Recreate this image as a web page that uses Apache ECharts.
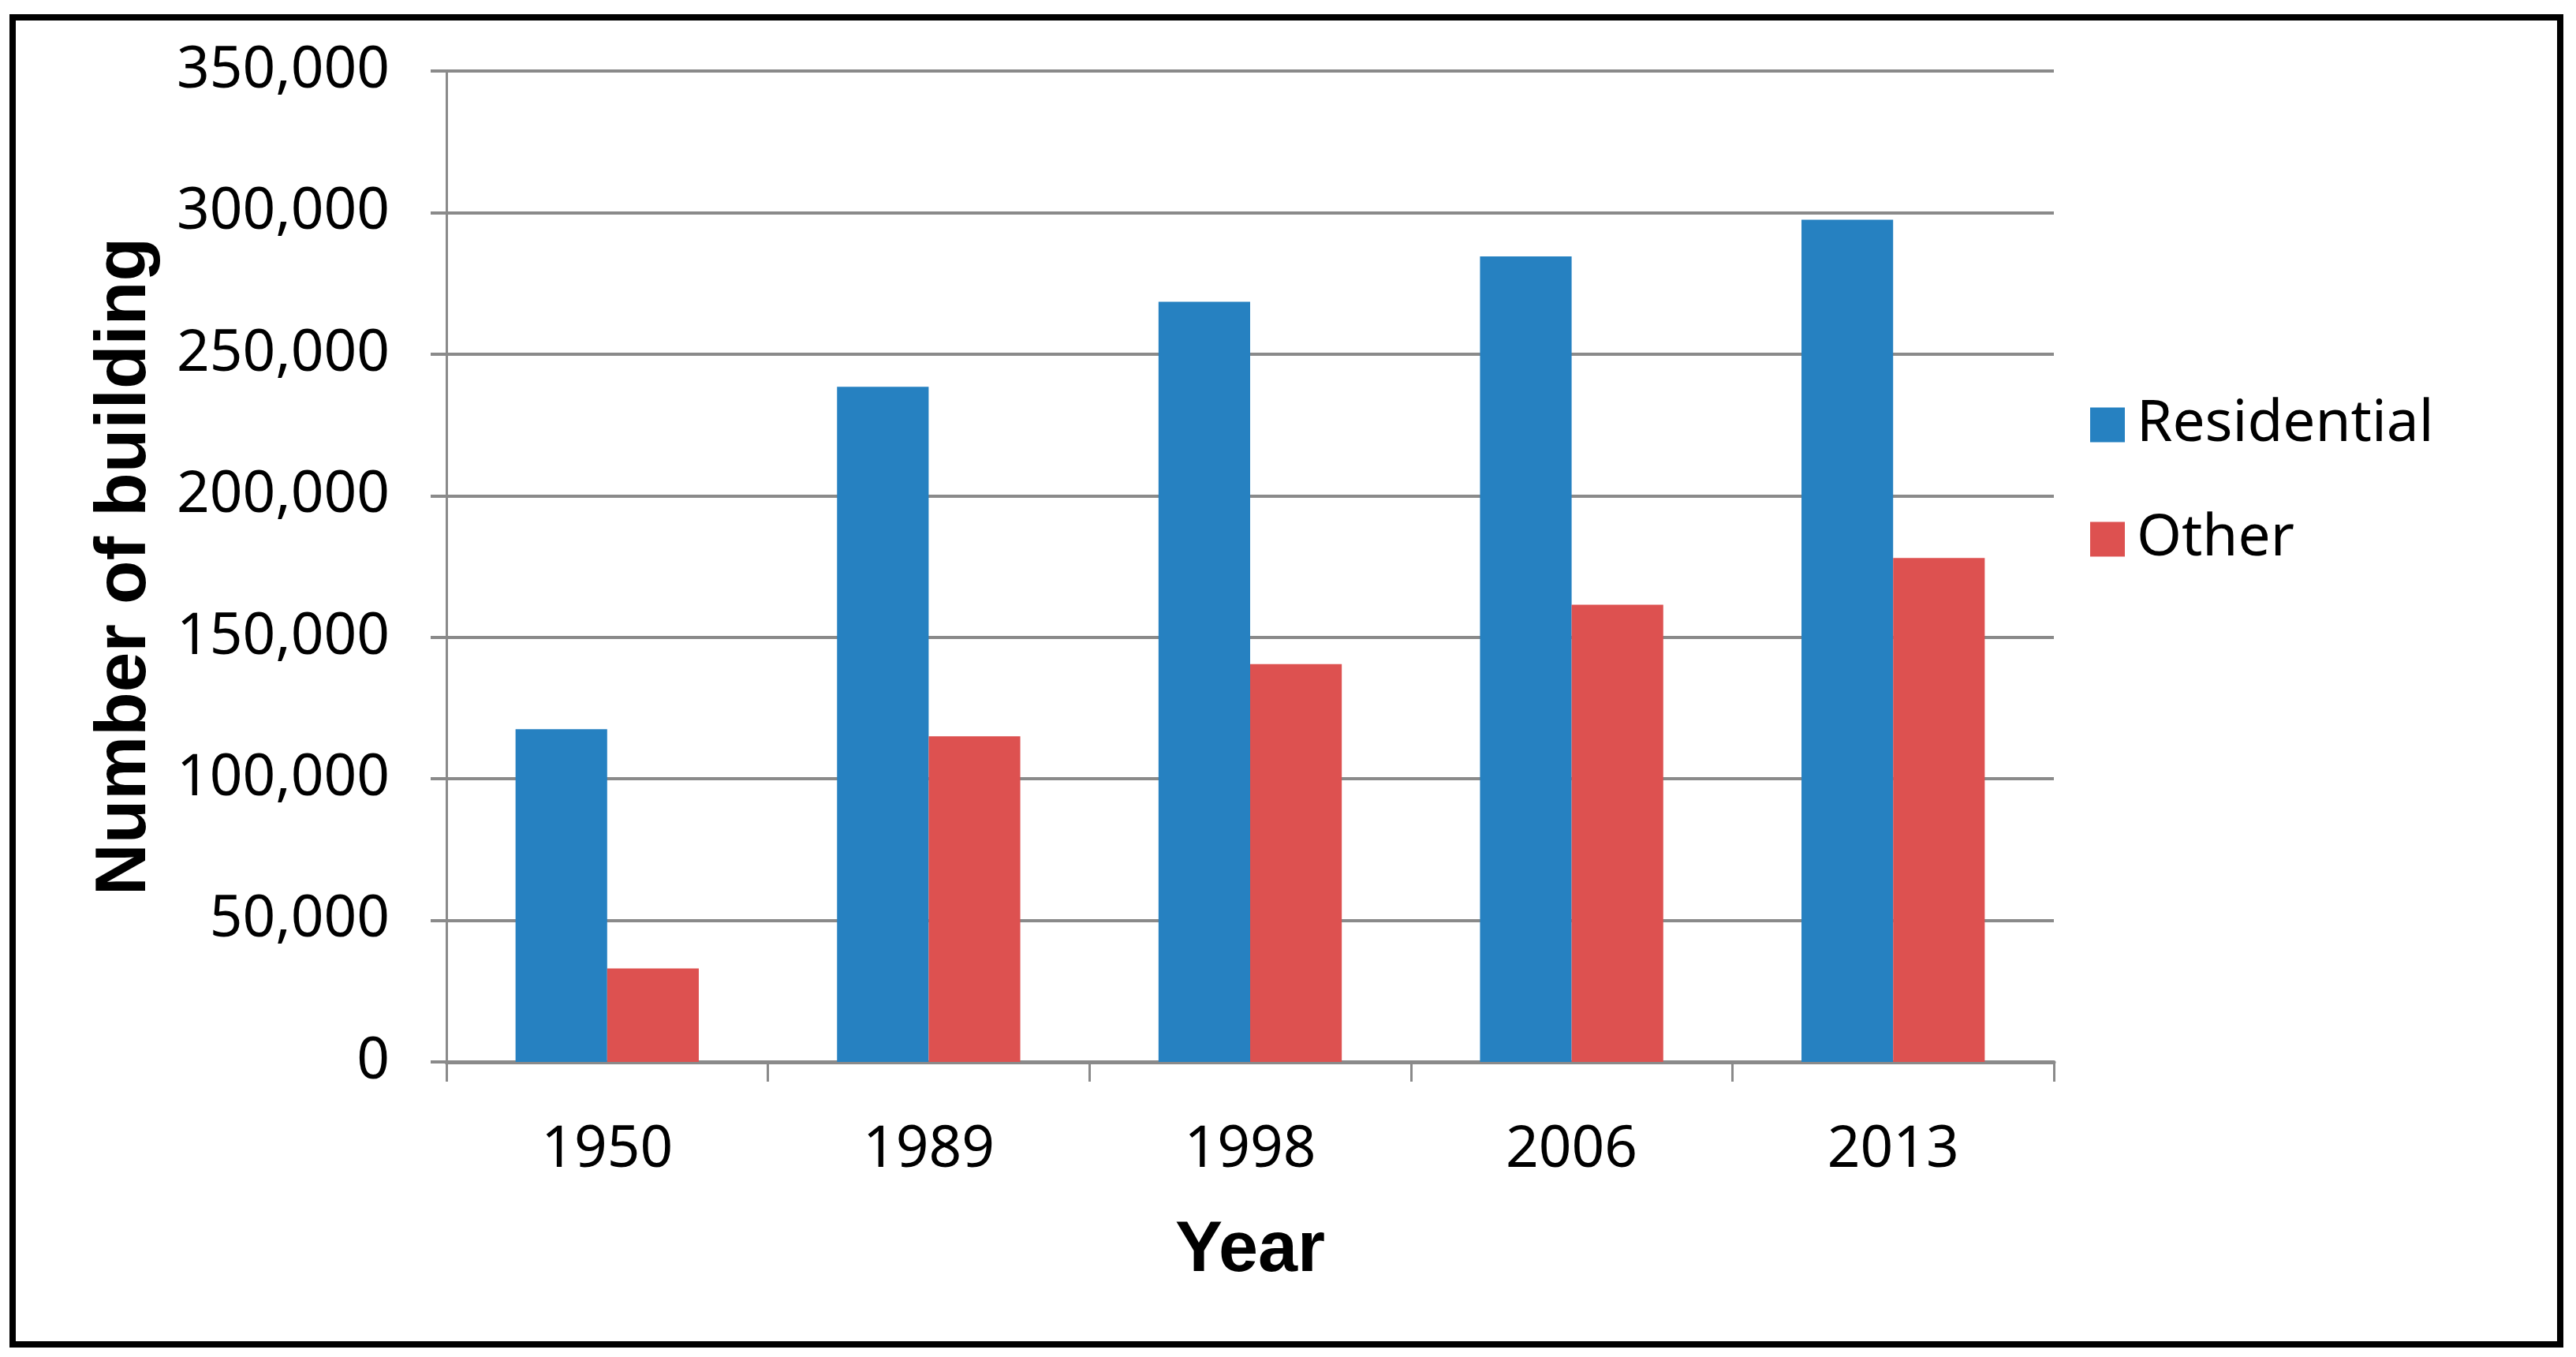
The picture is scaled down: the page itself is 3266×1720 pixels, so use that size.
<!DOCTYPE html>
<html>
<head>
<meta charset="utf-8">
<script src="https://cdn.jsdelivr.net/npm/echarts@6/dist/echarts.min.js"></script>
<style>
html,body{margin:0;padding:0;background:#fff;}
#c{width:3266px;height:1720px;}
</style>
</head>
<body>
<div id="c"></div>
<script>
const years = ['1950', '1989', '1998', '2006', '2013'];
const residential = [117500, 238500, 268500, 284500, 297500];
const other = [33000, 115000, 140500, 161500, 178000];
const seriesNames = ['Residential', 'Other'];
const xTitle = 'Year';
const yTitle = 'Number of building';

const chart = echarts.init(document.getElementById('c'), null, {renderer: 'canvas'});
const labelFont = 'Noto Sans';
const gridColor = '#8a8a8a';
chart.setOption({
  backgroundColor: '#ffffff',
  animation: false,
  graphic: [{
    type: 'rect',
    shape: {x: 16, y: 22, width: 3230, height: 1682},
    style: {fill: 'none', stroke: '#000', lineWidth: 8}
  }],
  grid: {left: 566, right: 662, top: 90, bottom: 374},
  legend: {
    orient: 'vertical',
    left: 2645,
    top: 497,
    itemWidth: 44,
    itemHeight: 44,
    itemGap: 72,
    icon: 'rect',
    textStyle: {fontFamily: labelFont, fontSize: 73, color: '#000', padding: [0, 0, 0, 10]},
    data: seriesNames
  },
  xAxis: {
    type: 'category',
    data: years,
    name: xTitle,
    nameLocation: 'middle',
    nameGap: 195,
    nameTextStyle: {fontFamily: 'Liberation Sans', fontWeight: 'bold', fontSize: 90, color: '#000'},
    axisLine: {lineStyle: {color: gridColor, width: 5}},
    axisTick: {show: true, length: 25, lineStyle: {color: gridColor, width: 3}},
    axisLabel: {fontFamily: labelFont, fontSize: 73, color: '#000', margin: 76}
  },
  yAxis: {
    type: 'value',
    min: 0,
    max: 350000,
    interval: 50000,
    name: yTitle,
    nameLocation: 'middle',
    nameGap: 362,
    nameTextStyle: {fontFamily: 'Liberation Sans', fontWeight: 'bold', fontSize: 91, color: '#000'},
    axisLine: {show: true, lineStyle: {color: gridColor, width: 3}},
    axisTick: {show: true, length: 20, lineStyle: {color: gridColor, width: 4}},
    splitLine: {lineStyle: {color: gridColor, width: 4}},
    axisLabel: {
      fontFamily: labelFont, fontSize: 73, color: '#000', margin: 72,
      formatter: v => v.toLocaleString('en-US')
    }
  },
  series: [
    {name: seriesNames[0], type: 'bar', data: residential, itemStyle: {color: '#2681C1'}, barGap: '0%', barCategoryGap: '43%'},
    {name: seriesNames[1], type: 'bar', data: other, itemStyle: {color: '#DD5150'}, barGap: '0%', barCategoryGap: '43%'}
  ]
});
</script>
</body>
</html>
